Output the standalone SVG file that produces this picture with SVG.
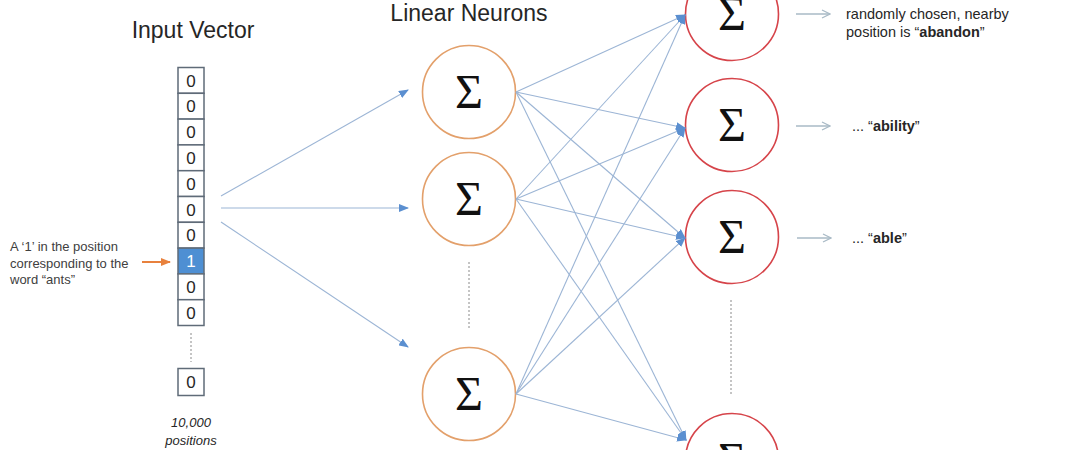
<svg xmlns="http://www.w3.org/2000/svg" width="1080" height="450" viewBox="0 0 1080 450">
<defs>
<marker id="ah" markerWidth="10" markerHeight="8" refX="9" refY="4" orient="auto" markerUnits="userSpaceOnUse">
<path d="M0,0 L10,4 L0,8 Z" fill="#5b8fd0"/>
</marker>
<marker id="ahOr" markerWidth="10" markerHeight="8" refX="9" refY="4" orient="auto" markerUnits="userSpaceOnUse">
<path d="M0,0 L10,4 L0,8 Z" fill="#e8813d"/>
</marker>
<marker id="ahOpen" markerWidth="10" markerHeight="10" refX="9" refY="5" orient="auto" markerUnits="userSpaceOnUse">
<path d="M1,1 L9,5 L1,9" fill="none" stroke="#a9bac6" stroke-width="1.3"/>
</marker>
</defs>
<style>
.t{font-family:"Liberation Sans",Arial,sans-serif;fill:#262626}
.title{font-size:23px}
.lbl{font-size:13px;fill:#404040}
.rt{font-size:14.5px;fill:#262626}
.cell{fill:#ffffff;stroke:#5f6b78;stroke-width:1.5}
.zero{font-family:"Liberation Sans",Arial,sans-serif;font-size:17px;fill:#262626;text-anchor:middle}
.hid{fill:#ffffff;stroke:#e3a06b;stroke-width:1.6}
.out{fill:#ffffff;stroke:#d6444a;stroke-width:1.6}
.sig{font-family:"Liberation Serif","Times New Roman",serif;font-size:48px;fill:#111;text-anchor:middle}
.c{stroke:#9cb5d5;stroke-width:1.1;fill:none;marker-end:url(#ah)}
.dot{stroke:#8a8a8a;stroke-width:1;stroke-dasharray:2,2;fill:none}
.ra{stroke:#a9bac6;stroke-width:1.3;fill:none;marker-end:url(#ahOpen)}
</style>
<rect width="1080" height="450" fill="#ffffff"/>

<text class="t title" x="193" y="38" text-anchor="middle">Input Vector</text>
<text class="t title" x="469" y="21" text-anchor="middle">Linear Neurons</text>

<g id="input-vector">
<rect class="cell" x="178" y="67.5" width="26" height="25.8"/>
<rect class="cell" x="178" y="93.3" width="26" height="25.8"/>
<rect class="cell" x="178" y="119.1" width="26" height="25.8"/>
<rect class="cell" x="178" y="144.9" width="26" height="25.8"/>
<rect class="cell" x="178" y="170.7" width="26" height="25.8"/>
<rect class="cell" x="178" y="196.5" width="26" height="25.8"/>
<rect class="cell" x="178" y="222.3" width="26" height="25.8"/>
<rect x="178" y="248.1" width="26" height="25.8" fill="#4e8fd3" stroke="#5f6b78" stroke-width="1.5"/>
<rect class="cell" x="178" y="273.9" width="26" height="25.8"/>
<rect class="cell" x="178" y="299.7" width="26" height="25.8"/>
<rect class="cell" x="178" y="368.5" width="26" height="27"/>
<text class="zero" x="191" y="86.5">0</text>
<text class="zero" x="191" y="112.3">0</text>
<text class="zero" x="191" y="138.1">0</text>
<text class="zero" x="191" y="163.9">0</text>
<text class="zero" x="191" y="189.7">0</text>
<text class="zero" x="191" y="215.5">0</text>
<text class="zero" x="191" y="241.3">0</text>
<text class="zero" x="191" y="267.1" style="fill:#ffffff">1</text>
<text class="zero" x="191" y="292.9">0</text>
<text class="zero" x="191" y="318.7">0</text>
<text class="zero" x="191" y="388">0</text>
<line class="dot" x1="191" y1="333" x2="191" y2="362"/>
<text class="t" x="191" y="427" text-anchor="middle" font-size="13" font-style="italic" fill="#404040">10,000</text>
<text class="t" x="191" y="445" text-anchor="middle" font-size="13" font-style="italic" fill="#404040">positions</text>
</g>

<g id="input-label">
<text class="t lbl" x="10" y="251">A ‘1’ in the position</text>
<text class="t lbl" x="10" y="268">corresponding to the</text>
<text class="t lbl" x="10" y="284">word “ants”</text>
<line x1="142" y1="262" x2="170" y2="262" stroke="#e8813d" stroke-width="2" marker-end="url(#ahOr)"/>
</g>

<g id="hidden-1"><circle class="hid" cx="469" cy="92" r="46.5"/><text class="sig" x="469" y="108">Σ</text></g>
<g id="hidden-2"><circle class="hid" cx="469" cy="199" r="46.5"/><text class="sig" x="469" y="215">Σ</text></g>
<g id="hidden-3"><circle class="hid" cx="469" cy="394" r="46.5"/><text class="sig" x="469" y="410">Σ</text></g>
<line class="dot" x1="469" y1="262" x2="469" y2="330"/>

<g id="output-1"><circle class="out" cx="732" cy="14" r="46.5"/><text class="sig" x="732" y="30">Σ</text></g>
<g id="output-2"><circle class="out" cx="732" cy="125" r="46.5"/><text class="sig" x="732" y="141">Σ</text></g>
<g id="output-3"><circle class="out" cx="732" cy="237" r="46.5"/><text class="sig" x="732" y="253">Σ</text></g>
<g id="output-4"><circle class="out" cx="732" cy="460" r="46.5"/><text class="sig" x="732" y="476">Σ</text></g>
<line class="dot" x1="731" y1="300" x2="731" y2="395"/>

<g id="connectors">
<line class="c" x1="221" y1="196" x2="408" y2="90"/>
<line class="c" x1="221" y1="208" x2="408" y2="208"/>
<line class="c" x1="221" y1="222" x2="408" y2="347"/>

<line class="c" x1="516" y1="92" x2="685" y2="15"/>
<line class="c" x1="516" y1="92" x2="685" y2="128"/>
<line class="c" x1="516" y1="92" x2="685" y2="238"/>
<line class="c" x1="516" y1="92" x2="686" y2="440"/>
<line class="c" x1="516" y1="199" x2="685" y2="15"/>
<line class="c" x1="516" y1="199" x2="685" y2="128"/>
<line class="c" x1="516" y1="199" x2="685" y2="238"/>
<line class="c" x1="516" y1="199" x2="686" y2="440"/>
<line class="c" x1="516" y1="394" x2="685" y2="15"/>
<line class="c" x1="516" y1="394" x2="685" y2="128"/>
<line class="c" x1="516" y1="394" x2="685" y2="238"/>
<line class="c" x1="516" y1="394" x2="686" y2="440"/>

<line class="ra" x1="796" y1="14" x2="830" y2="14"/>
<line class="ra" x1="796" y1="126" x2="830" y2="126"/>
<line class="ra" x1="797" y1="238" x2="831" y2="238"/>
</g>

<g id="output-labels">
<text class="t rt" x="846" y="19">randomly chosen, nearby</text>
<text class="t rt" x="846" y="37">position is “<tspan font-weight="bold">abandon</tspan>”</text>
<text class="t rt" x="852" y="131">... “<tspan font-weight="bold">ability</tspan>”</text>
<text class="t rt" x="852" y="243">... “<tspan font-weight="bold">able</tspan>”</text>
</g>
</svg>
